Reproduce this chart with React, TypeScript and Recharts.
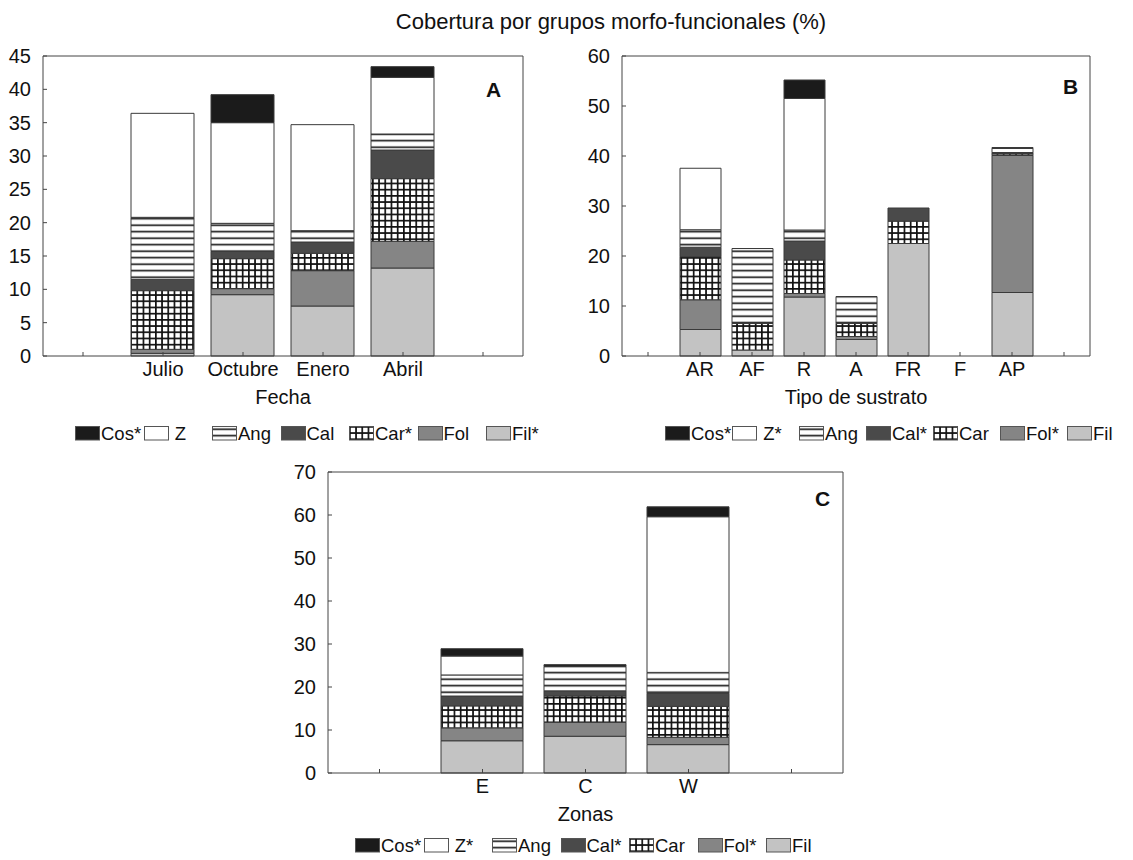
import React from 'react';
import { BarChart, Bar, XAxis, YAxis } from 'recharts';

// panel A: Fecha
const fechaTicks = ['', 'Julio', 'Octubre', 'Enero', 'Abril', ''];
const filA = [0.4, 9.2, 7.5, 13.2];
const folA = [0.6, 0.9, 5.3, 4.0];
const carA = [8.8, 4.5, 2.6, 9.4];
const calA = [1.7, 1.1, 1.7, 4.3];
const angA = [9.3, 4.2, 1.7, 2.4];
const zA = [15.6, 15.1, 15.9, 8.5];
const cosA = [0, 4.2, 0, 1.6];

// panel B: Tipo de sustrato
const sustratoTicks = ['', 'AR', 'AF', 'R', 'A', 'FR', 'F', 'AP', ''];
const filB = [5.3, 1.2, 11.8, 3.3, 22.5, 0, 12.7];
const folB = [5.95, 0, 0.7, 0.6, 0, 0, 27.4];
const carB = [8.6, 5.3, 6.7, 2.6, 4.5, 0, 0.3];
const calB = [1.9, 0, 3.8, 0, 2.6, 0, 0];
const angB = [3.5, 15.0, 2.2, 5.4, 0, 0, 0.3];
const zB = [12.3, 0, 26.3, 0, 0, 0, 0.8];
const cosB = [0, 0, 3.7, 0, 0, 0, 0.2];

// panel C: Zonas
const zonaTicks = ['', 'E', 'C', 'W', ''];
const filC = [7.5, 8.55, 6.6];
const folC = [3.0, 3.25, 1.7];
const carC = [5.1, 6.1, 7.2];
const calC = [2.3, 1.2, 3.0];
const angC = [4.9, 5.65, 4.9];
const zC = [4.4, 0.1, 36.2];
const cosC = [1.7, 0.35, 2.3];

const namesA = ['Cos*', ' Z', 'Ang', 'Cal', 'Car*', 'Fol', 'Fil*'];
const namesBC = ['Cos*', ' Z*', 'Ang', 'Cal*', 'Car', 'Fol*', 'Fil'];

const FONT = '"Liberation Sans", Arial, Helvetica, sans-serif';
const stackKeys = ['fil', 'fol', 'car', 'cal', 'ang', 'z', 'cos'];
const legendKeys = ['cos', 'z', 'ang', 'cal', 'car', 'fol', 'fil'];
const fills: Record<string, string> = {
  fil: '#c3c3c3',
  fol: '#858585',
  car: 'url(#pCar)',
  cal: '#4a4a4a',
  ang: 'url(#pAng)',
  z: '#ffffff',
  cos: '#1b1b1b',
};

function makeRows(s: Record<string, number[]>) {
  return s.fil.map((_, i) => {
    const r: any = { x: i + 1 };
    stackKeys.forEach((k) => (r[k] = s[k][i]));
    return r;
  });
}

const rowsA = makeRows({ fil: filA, fol: folA, car: carA, cal: calA, ang: angA, z: zA, cos: cosA });
const rowsB = makeRows({ fil: filB, fol: folB, car: carB, cal: calB, ang: angB, z: zB, cos: cosB });
const rowsC = makeRows({ fil: filC, fol: folC, car: carC, cal: calC, ang: angC, z: zC, cos: cosC });

const tickStyle = { fill: '#111', fontSize: 20, fontFamily: FONT };

function Panel(props: any) {
  const { left, top, plotLeft, plotRight, plotTop, plotBottom, yMax, yStep, labels, data, barSize, title, letter } = props;
  const axisH = 52;
  const yTicks: number[] = [];
  for (let v = 0; v <= yMax; v += yStep) yTicks.push(v);
  const xTicks = labels.map((_: string, i: number) => i);
  const domain = [-0.5, labels.length - 0.5];
  return (
    <div style={{ position: 'absolute', left, top }}>
      <BarChart
        width={plotRight - left + 1}
        height={plotBottom - top + axisH}
        data={data}
        margin={{ top: plotTop - top - 1, right: 0, left: 0, bottom: 0 }}
      >
        <XAxis
          xAxisId="b"
          dataKey="x"
          type="number"
          domain={domain}
          ticks={xTicks}
          interval={0}
          tickFormatter={(v: number) => labels[v] ?? ''}
          tickSize={-4}
          tickMargin={10}
          height={axisH}
          stroke="#444"
          tick={tickStyle}
          label={{ value: title, position: 'insideBottom', offset: 4, fill: '#111', fontSize: 20, fontFamily: FONT }}
        />
        <XAxis
          xAxisId="t"
          orientation="top"
          dataKey="x"
          type="number"
          domain={domain}
          ticks={xTicks}
          tick={false}
          tickSize={-4}
          height={1}
          stroke="#444"
        />
        <YAxis
          yAxisId="l"
          domain={[0, yMax]}
          ticks={yTicks}
          interval={0}
          width={plotLeft - left}
          tickSize={-4}
          tickMargin={16}
          stroke="#444"
          tick={tickStyle}
        />
        <YAxis
          yAxisId="r"
          orientation="right"
          domain={[0, yMax]}
          ticks={yTicks}
          tick={false}
          tickSize={-4}
          width={1}
          stroke="#444"
        />
        {stackKeys.map((k) => (
          <Bar
            key={k}
            xAxisId="b"
            yAxisId="l"
            dataKey={k}
            stackId="s"
            fill={fills[k]}
            stroke="#3a3a3a"
            strokeWidth={1}
            barSize={barSize}
            isAnimationActive={false}
          />
        ))}
      </BarChart>
      <div
        style={{
          position: 'absolute',
          left: letter[0] - left,
          top: letter[1] - top,
          fontFamily: FONT,
          fontWeight: 'bold',
          fontSize: 21,
          color: '#111',
        }}
      >
        {letter[2]}
      </div>
    </div>
  );
}

function Key({ left, top, cell, names }: { left: number; top: number; cell: number; names: string[] }) {
  return (
    <div
      style={{
        position: 'absolute',
        left,
        top,
        display: 'flex',
        fontFamily: FONT,
        fontSize: 18.5,
        color: '#111',
        lineHeight: '19px',
      }}
    >
      {legendKeys.map((k, i) => (
        <div key={k} style={{ width: cell, display: 'flex', alignItems: 'center' }}>
          <svg width={25} height={15} style={{ display: 'block' }}>
            <rect x={0.5} y={0.5} width={24} height={13.5} fill={fills[k]} stroke="#555" />
          </svg>
          <span style={{ marginLeft: 1, whiteSpace: 'pre' }}>{names[i]}</span>
        </div>
      ))}
    </div>
  );
}

export default function App() {
  return (
    <div style={{ position: 'absolute', left: 0, top: 0, width: 1133, height: 860, background: '#fff', overflow: 'hidden' }}>
      <svg width={0} height={0} style={{ position: 'absolute' }}>
        <defs>
          <pattern id="pAng" patternUnits="userSpaceOnUse" width={10} height={6.5}>
            <rect width={10} height={6.5} fill="#fff" />
            <rect y={2.4} width={10} height={1.6} fill="#111" />
          </pattern>
          <pattern id="pCar" patternUnits="userSpaceOnUse" width={6.2} height={6.2}>
            <rect width={6.2} height={6.2} fill="#fff" />
            <rect width={1.7} height={6.2} fill="#111" />
            <rect width={6.2} height={1.7} fill="#111" />
          </pattern>
        </defs>
      </svg>

      <div
        style={{
          position: 'absolute',
          left: 0,
          width: 1222,
          top: 9,
          textAlign: 'center',
          fontFamily: FONT,
          fontSize: 22,
          color: '#111',
        }}
      >
        Cobertura por grupos morfo-funcionales (%)
      </div>

      <Panel
        left={0}
        top={40}
        plotLeft={43}
        plotRight={523}
        plotTop={56}
        plotBottom={356}
        yMax={45}
        yStep={5}
        labels={fechaTicks}
        data={rowsA}
        barSize={63}
        title="Fecha"
        letter={[486, 78, 'A']}
      />
      <Panel
        left={575}
        top={40}
        plotLeft={622}
        plotRight={1090}
        plotTop={56}
        plotBottom={356}
        yMax={60}
        yStep={10}
        labels={sustratoTicks}
        data={rowsB}
        barSize={41}
        title="Tipo de sustrato"
        letter={[1063, 75, 'B']}
      />
      <Panel
        left={280}
        top={455}
        plotLeft={328}
        plotRight={843}
        plotTop={472}
        plotBottom={773}
        yMax={70}
        yStep={10}
        labels={zonaTicks}
        data={rowsC}
        barSize={82}
        title="Zonas"
        letter={[815, 487, 'C']}
      />

      <Key left={75} top={424} cell={68.5} names={namesA} />
      <Key left={665} top={424} cell={67} names={namesBC} />
      <Key left={355} top={836} cell={68.5} names={namesBC} />
    </div>
  );
}
